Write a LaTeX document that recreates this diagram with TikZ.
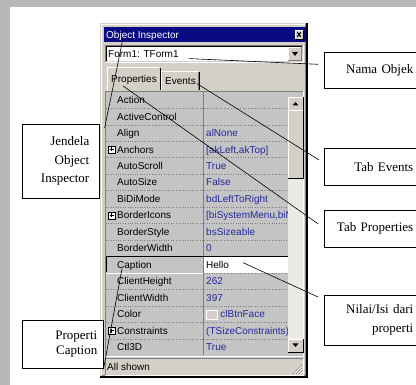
\documentclass[tikz,border=0pt]{standalone}
\usepackage{fontspec}
\setmainfont{Liberation Serif}
\newfontfamily\uifont{Liberation Sans}
\usetikzlibrary{calc}
\definecolor{winface}{HTML}{D4D0C8}
\definecolor{gridgray}{HTML}{C4C4C4}
\definecolor{titleblue}{HTML}{0A0A84}
\definecolor{valblue}{HTML}{2828A0}
\definecolor{shadow}{HTML}{808080}
\definecolor{wmark}{HTML}{B8B8B8}
% raised / sunken edge: top-left colour, bottom-right colour
\newcommand{\bevel}[6]{%
  \draw[#5] (#1,#4) -- (#1,#2) -- (#3,#2);
  \draw[#6] (#1,#4) -- (#3,#4) -- (#3,#2);}
\newcommand{\swatch}{{\fboxsep=0pt\fboxrule=0.6pt\fcolorbox{white}{winface}{\rule[-1.5pt]{0pt}{9pt}\rule{10pt}{0pt}}}\hspace{3pt}}
\tikzset{
  callout/.style={draw, fill=white, line width=0.6pt, align=right, anchor=north west, inner ysep=2pt},
  rbox/.style={callout, text width=85pt, inner xsep=4pt, font=\fontsize{13}{19}\selectfont},
  ui/.style={font=\uifont\fontsize{10}{11}\selectfont, inner sep=0pt, anchor=base west},
  pname/.style={ui, text=black},
  pval/.style={ui, text=valblue},
  lead/.style={line width=0.6pt}}

\begin{document}
\begin{tikzpicture}[x=1pt, y=-1pt]
  \useasboundingbox (0,0) rectangle (416,385);
  \clip (0,0) rectangle (416,385);
  % scan background
  \fill[wmark] (0,0) rectangle (10,385);
  \fill[wmark] (0,0) rectangle (416,7);

  % window
  \fill[winface] (100,23) rectangle (307,377);
  \bevel{100}{23}{307}{377}{winface}{black, line width=1.4pt}
  \bevel{101.5}{24.5}{305.5}{375.5}{white}{shadow}
  \fill[titleblue] (104,27) rectangle (306,42);
  \node[ui, text=white] (title) at (106,38.5) {Object Inspector};
  \fill[winface] (295,30) rectangle (303,39);
  \bevel{295}{30}{303}{39}{white}{black}
  \draw[line width=1.1pt] (297.3,32.3) -- (300.7,36.7) (297.3,36.7) -- (300.7,32.3);

  % combo box
  \fill[white] (105,45) rectangle (303,62);
  \bevel{105}{45}{303}{62}{shadow}{white}
  \bevel{106}{46}{302}{61}{black}{winface}
  \node[ui] (form) at (108,58) {Form1: TForm1};
  \fill[winface] (288,47) rectangle (301,60);
  \bevel{288}{47}{301}{60}{white}{shadow}
  \fill (292,52) -- (298,52) -- (295,56) -- cycle;

  % tabs
  \draw[white] (107,90) -- (107,67) -- (159,67);
  \draw[black] (160,68) -- (160,90);
  \node[ui] (ptab) at (111,82.5) {Properties};
  \draw[white] (161,90) -- (161,71) -- (198,71);
  \draw[shadow] (198,72) -- (198,90);
  \draw[black] (199,72) -- (199,90);
  \node[ui] (evtab) at (165,85) {Events};

  % property grid
  \fill[gridgray] (105,91) rectangle (303,356);
  \bevel{105}{91}{303}{356}{shadow}{white}
  \begin{scope}
    \clip (106,92) rectangle (288,355);
    \fill[white] (204,256.7) rectangle (288,273);
    \foreach \i in {1,...,15}{
      \pgfmathsetmacro\ry{91.8+16.47*\i}
      \draw[shadow, dotted] (106,\ry) -- (288,\ry);}
    \draw[shadow] (203,92) -- (203,355);
    \draw[black] (106,272.5) -- (106,256.7) -- (288,256.7);
    \draw[white] (106,273) -- (203,273);
    \foreach \pn/\pv [count=\i from 0] in {Action/, ActiveControl/, Align/alNone,
        Anchors/{[akLeft,akTop]}, AutoScroll/True, AutoSize/False, BiDiMode/bdLeftToRight,
        BorderIcons/{[biSystemMenu,biM}, BorderStyle/bsSizeable, BorderWidth/0,
        Caption/\textcolor{black}{Hello}, ClientHeight/262, ClientWidth/397,
        Color/\swatch clBtnFace, Constraints/(TSizeConstraints), Ctl3D/True}{
      \pgfmathsetmacro\ry{103.6+16.47*\i}
      \node[pname] (p\i) at (117,\ry) {\pn};
      \node[pval] (v\i) at (206,\ry) {\pv};}
    \foreach \i in {3,7,14}{
      \pgfmathsetmacro\ry{100+16.47*\i}
      \draw[fill=white] (108,\ry-3.5) rectangle (115,\ry+3.5);
      \draw (109.5,\ry) -- (113.5,\ry) (111.5,\ry-2) -- (111.5,\ry+2);}
  \end{scope}

  % scroll bar
  \fill[winface!45!white] (288,97) rectangle (303,352);
  \fill[winface] (288,97) rectangle (303,178);
  \bevel{288}{97}{303}{110}{white}{black}
  \bevel{288}{110}{303}{178}{white}{black}
  \fill (292.5,105.5) -- (298.5,105.5) -- (295.5,102) -- cycle;
  \fill[winface] (288,339) rectangle (303,352);
  \bevel{288}{339}{303}{352}{white}{black}
  \fill (292.5,343.5) -- (298.5,343.5) -- (295.5,347) -- cycle;

  % status bar
  \bevel{105}{358}{303}{375}{shadow}{white}
  \node[ui] (status) at (107,370.5) {All shown};
  \foreach \d in {3,6,9}{
    \draw[shadow] (302-\d,374) -- (302,374-\d);
    \draw[white] (303-\d,374) -- (302,375-\d);}

  % callouts
  \node[callout, text width=57pt, inner xsep=10pt, minimum height=74pt,
        font=\fontsize{13}{18.5}\selectfont] (jendela) at (22,124) {Jendela\\Object\\Inspector};
  \node[callout, text width=69pt, inner xsep=6pt, minimum height=48pt,
        font=\fontsize{13}{15}\selectfont] (propcap) at (22,320) {Properti\\Caption};
  \node[rbox, minimum height=36pt] (nama) at (324,52) {Nama Objek};
  \node[rbox, minimum height=37pt] (tabev) at (324,148) {Tab Events};
  \node[rbox, minimum height=37pt] (tabprop) at (324,210) {Tab Properties};
  \node[rbox, minimum height=50pt] (nilai) at (324,295) {Nilai/Isi dari\\properti};

  \draw[lead] ([shift={(5,4)}]jendela.north east) -- ($(title.west)+(17,2.5)$);
  \draw[lead] ($(form.east)+(10,4)$) -- ($(nama.west)+(-6,-6)$);
  \draw[lead] ($(evtab.east)+(1,2)$) -- ($(tabev.north west)+(-5,12)$);
  \draw[lead] ($(ptab.west)+(12,6)$) -- ($(tabprop.west)+(-6,-5)$);
  \draw[lead] ($(v10.east)+(14,-2)$) -- ($(nilai.north west)+(-6,2)$);
  \draw[lead] (propcap.south east) -- ($(p10.west)+(5,3)$);
\end{tikzpicture}
\end{document}
